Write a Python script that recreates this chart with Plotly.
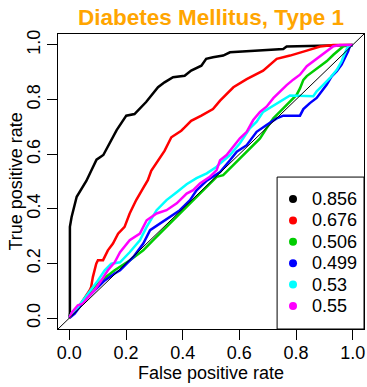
import plotly.graph_objects as go

# ROC curves (false positive rate, true positive rate) for six classifiers
fpr_black = [0, 0.002, 0.002, 0.008, 0.026, 0.049, 0.060, 0.073, 0.096, 0.120, 0.143, 0.167,
             0.201, 0.230, 0.271, 0.313, 0.336, 0.366, 0.407, 0.430, 0.466, 0.483, 0.507,
             0.543, 0.567, 0.649, 0.755, 0.767, 0.885, 1.0]
tpr_black = [0, 0.020, 0.334, 0.370, 0.444, 0.480, 0.502, 0.530, 0.580, 0.597, 0.640, 0.688,
             0.741, 0.747, 0.791, 0.845, 0.863, 0.882, 0.887, 0.906, 0.924, 0.949, 0.955,
             0.961, 0.973, 0.979, 0.985, 0.994, 0.997, 1.0]

fpr_red = [0, 0.037, 0.072, 0.077, 0.083, 0.095, 0.101, 0.119, 0.136, 0.154, 0.172, 0.195,
           0.213, 0.236, 0.260, 0.277, 0.289, 0.313, 0.336, 0.360, 0.395, 0.407, 0.430,
           0.466, 0.507, 0.532, 0.579, 0.626, 0.684, 0.732, 0.779, 0.838, 0.885, 0.932, 1.0]
tpr_red = [0, 0.047, 0.102, 0.114, 0.150, 0.199, 0.212, 0.212, 0.248, 0.273, 0.309, 0.334,
           0.383, 0.432, 0.475, 0.505, 0.539, 0.576, 0.612, 0.662, 0.686, 0.698, 0.722,
           0.741, 0.765, 0.796, 0.845, 0.875, 0.906, 0.949, 0.961, 0.979, 0.994, 1.0, 1.0]

fpr_green = [0, 0.007, 0.042, 0.077, 0.113, 0.160, 0.214, 0.261, 0.296, 0.343, 0.379, 0.414,
             0.449, 0.485, 0.520, 0.543, 0.579, 0.626, 0.649, 0.673, 0.696, 0.720, 0.755,
             0.779, 0.802, 0.814, 0.826, 0.838, 0.861, 0.885, 0.908, 0.932, 0.955, 0.967, 1.0]
tpr_green = [0, 0.016, 0.053, 0.102, 0.138, 0.175, 0.212, 0.248, 0.285, 0.334, 0.370, 0.407,
             0.444, 0.480, 0.517, 0.523, 0.560, 0.609, 0.633, 0.658, 0.695, 0.731, 0.768,
             0.792, 0.817, 0.841, 0.872, 0.886, 0.904, 0.922, 0.940, 0.964, 0.983, 0.995, 1.0]

fpr_blue = [0, 0.019, 0.054, 0.089, 0.125, 0.160, 0.179, 0.226, 0.261, 0.285, 0.320, 0.355,
            0.390, 0.426, 0.449, 0.485, 0.532, 0.567, 0.591, 0.626, 0.661, 0.696, 0.732,
            0.755, 0.814, 0.826, 0.849, 0.873, 0.891, 0.908, 0.926, 0.944, 0.961, 0.973,
            0.984, 0.990, 1.0]
tpr_blue = [0, 0.016, 0.065, 0.102, 0.138, 0.163, 0.175, 0.224, 0.273, 0.322, 0.346, 0.370,
            0.395, 0.432, 0.468, 0.503, 0.535, 0.578, 0.609, 0.633, 0.682, 0.707, 0.731,
            0.741, 0.741, 0.765, 0.787, 0.806, 0.830, 0.854, 0.885, 0.904, 0.928, 0.952,
            0.977, 0.995, 1.0]

fpr_cyan = [0, 0.007, 0.030, 0.066, 0.101, 0.125, 0.148, 0.179, 0.213, 0.249, 0.273, 0.308,
            0.343, 0.379, 0.414, 0.449, 0.485, 0.520, 0.532, 0.567, 0.602, 0.637, 0.661,
            0.684, 0.714, 0.743, 0.767, 0.779, 0.861, 0.873, 0.896, 0.920, 0.944, 0.961,
            0.973, 0.984, 1.0]
tpr_cyan = [0, 0.016, 0.040, 0.089, 0.138, 0.175, 0.199, 0.204, 0.241, 0.285, 0.334, 0.395,
            0.432, 0.461, 0.490, 0.512, 0.530, 0.554, 0.566, 0.597, 0.640, 0.695, 0.719,
            0.755, 0.774, 0.792, 0.809, 0.815, 0.812, 0.830, 0.854, 0.879, 0.909, 0.940,
            0.971, 0.995, 1.0]

fpr_magenta = [0, 0.009, 0.030, 0.048, 0.066, 0.089, 0.113, 0.136, 0.160, 0.179, 0.213,
               0.249, 0.273, 0.308, 0.343, 0.379, 0.414, 0.437, 0.461, 0.496, 0.520, 0.532,
               0.555, 0.579, 0.602, 0.626, 0.649, 0.673, 0.696, 0.720, 0.743, 0.767, 0.790,
               0.814, 0.838, 0.861, 0.885, 0.908, 0.932, 0.955, 1.0]
tpr_magenta = [0, 0.021, 0.047, 0.053, 0.077, 0.102, 0.138, 0.175, 0.204, 0.241, 0.285,
               0.309, 0.358, 0.383, 0.395, 0.420, 0.456, 0.468, 0.493, 0.517, 0.542, 0.578,
               0.597, 0.627, 0.658, 0.682, 0.725, 0.755, 0.774, 0.805, 0.829, 0.853, 0.873,
               0.891, 0.922, 0.940, 0.959, 0.977, 0.995, 1.0, 1.0]

auc_values = ["0.856", "0.676", "0.506", "0.499", "0.53", "0.55"]
colors = ["#000000", "#FF0000", "#00CD00", "#0000FF", "#00FFFF", "#FF00FF"]
curves = [(fpr_black, tpr_black), (fpr_red, tpr_red), (fpr_green, tpr_green),
          (fpr_blue, tpr_blue), (fpr_cyan, tpr_cyan), (fpr_magenta, tpr_magenta)]

title_text = "Diabetes Mellitus, Type 1"
x_title = "False positive rate"
y_title = "True positive rate"
tick_vals = [0, 0.2, 0.4, 0.6, 0.8, 1.0]
tick_text = ["0.0", "0.2", "0.4", "0.6", "0.8", "1.0"]

FONT = "Liberation Sans, Arial, Helvetica, sans-serif"
AX_RANGE = [-0.04, 1.04]

fig = go.Figure()

for (fx, ty), col in zip(curves, colors):
    fig.add_trace(go.Scatter(x=fx, y=ty, mode="lines",
                             line=dict(color=col, width=2.5),
                             showlegend=False, hoverinfo="skip"))

# reference diagonal y = x across the whole plotting region
fig.add_shape(type="line", xref="x domain", yref="y domain", x0=0, y0=0, x1=1, y1=1,
              line=dict(color="black", width=1), layer="above")

# legend box in the lower-right corner (drawn under the traces so the dots show)
leg_left = 0.716
leg_top = 0.515
fig.add_shape(type="rect", xref="x domain", yref="y domain",
              x0=leg_left, x1=1, y0=0, y1=leg_top,
              line=dict(color="black", width=1), fillcolor="white", layer="below")

row_top = 0.4407
row_step = 21.4 / 295.0
dot_dom_x = 0.768


def dom_to_data(f):
    return AX_RANGE[0] + f * (AX_RANGE[1] - AX_RANGE[0])


rows_y = [row_top - i * row_step for i in range(len(auc_values))]
fig.add_trace(go.Scatter(x=[dom_to_data(dot_dom_x)] * len(auc_values),
                         y=[dom_to_data(r) for r in rows_y],
                         mode="markers", marker=dict(color=colors, size=8, line=dict(width=0)),
                         showlegend=False, hoverinfo="skip", cliponaxis=False))
for r, label in zip(rows_y, auc_values):
    fig.add_annotation(xref="x domain", yref="y domain", x=0.8235, y=r,
                       xanchor="left", yanchor="middle", text=label, showarrow=False,
                       font=dict(family=FONT, size=18, color="black"))

# title and axis titles
fig.add_annotation(xref="x domain", yref="y domain", x=0.5, y=1.056,
                   xanchor="center", yanchor="middle", showarrow=False,
                   text="<b>" + title_text + "</b>",
                   font=dict(family=FONT, size=22.5, color="#FFA500"))
fig.add_annotation(xref="x domain", yref="y domain", x=0.5, y=-0.149,
                   xanchor="center", yanchor="middle", showarrow=False, text=x_title,
                   font=dict(family=FONT, size=18, color="black"))
fig.add_annotation(xref="x domain", yref="y domain", x=-0.1405, y=0.5,
                   xanchor="center", yanchor="middle", showarrow=False, text=y_title,
                   textangle=-90, font=dict(family=FONT, size=18, color="black"))

axis_common = dict(range=AX_RANGE, showgrid=False, zeroline=False, showline=True,
                   linecolor="black", linewidth=1, mirror=True, ticks="outside",
                   ticklen=10, tickwidth=1, tickcolor="black",
                   tickvals=tick_vals, ticktext=tick_text,
                   tickfont=dict(family=FONT, size=18, color="black"))

fig.update_layout(
    width=367, height=387,
    margin=dict(l=58, r=3, t=34, b=58),
    plot_bgcolor="white", paper_bgcolor="white",
    xaxis=dict(**axis_common, ticklabelstandoff=-3),
    yaxis=dict(**axis_common, tickangle=-90),
    showlegend=False,
)

fig.write_html("out.html", config={"displayModeBar": False})
